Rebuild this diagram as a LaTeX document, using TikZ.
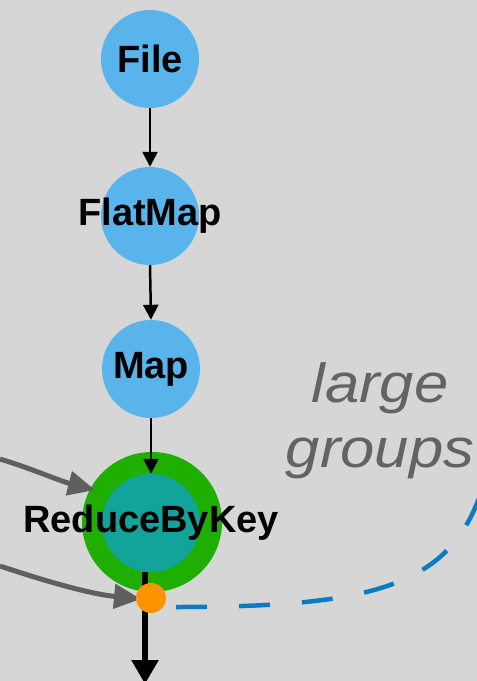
\documentclass[tikz,border=0pt]{standalone}
\usepackage{fontspec}
\setmainfont{Liberation Sans}
\newfontfamily\annotfont{Liberation Sans}[FakeStretch=1.12]
\usetikzlibrary{arrows.meta}
\definecolor{bgc}{HTML}{D6D6D6}
\definecolor{nodeblue}{HTML}{5AB4EC}
\definecolor{ringgreen}{HTML}{1FAF00}
\definecolor{tealc}{HTML}{12A39A}
\definecolor{orangec}{HTML}{FF9400}
\definecolor{arrowgray}{HTML}{5F5F5F}
\definecolor{textgray}{HTML}{636363}
\definecolor{dashblue}{HTML}{0A7DC2}
\newcommand{\optext}[1]{\makebox[0pt]{#1}}
\tikzset{
  opnode/.style={circle, inner sep=0pt, minimum size=98pt, fill=nodeblue,
    font=\fontsize{38}{40}\selectfont\bfseries, text=black},
  flowarrow/.style={line width=2.5pt, black, -{Triangle[length=15pt,width=15pt]}},
  sidearrow/.style={line width=5pt, arrowgray, -{Triangle[length=27pt,width=24pt]}},
  outarrow/.style={line width=5.5pt, black, -{Triangle[length=24pt,width=26pt]}},
  groupdash/.style={line width=4.5pt, dashblue, dash pattern=on 31pt off 32pt},
  annot/.style={font=\annotfont\fontsize{55}{65}\selectfont\itshape, text=textgray, align=center, inner sep=0pt}
}
\begin{document}
\begin{tikzpicture}[x=1pt,y=-1pt]
\fill[bgc] (0,0) rectangle (477,681);
\useasboundingbox (0,0) rectangle (477,681);
% nodes
\node[opnode] (file) at (150,59) {\optext{File}};
\node[opnode] (flatmap) at (150,216) {\optext{FlatMap}};
\node[opnode] (map) at (151,369) {\optext{Map}};
\node[circle, inner sep=0pt, minimum size=140pt, fill=ringgreen] (ring) at (152,522) {};
\node[opnode, fill=tealc] (reduce) at (151,523) {\optext{ReduceByKey}};
% flow arrows
\draw[flowarrow] (file.south) -- (flatmap.north);
\draw[flowarrow] (flatmap.south) -- (map.north);
\draw[flowarrow] (map.south) -- (reduce.north);
% incoming side arrows
\coordinate (in1) at (0,459);
\coordinate (tip1) at (95,490);
\coordinate (in2) at (0,566);
\coordinate (tip2) at (141,599);
\draw[sidearrow] (in1) .. controls (30,468) and (60,481) .. (tip1);
\draw[sidearrow] (in2) .. controls (45,581) and (90,594) .. (tip2);
% output arrow
\coordinate (out) at (145,684);
\draw[outarrow] (out |- reduce.south) -- (out);
% combine point
\node[circle, inner sep=0pt, minimum size=30pt, fill=orangec] (dot) at (151,598) {};
% dashed large-groups path
\coordinate (dstart) at (176,607);
\coordinate (dend) at (485,480);
\draw[groupdash] (dstart) .. controls (380,607) and (455,585) .. (dend);
% annotation
\node[annot, anchor=base] (lbl) at (380,467) {large\\groups};
\end{tikzpicture}
\end{document}
